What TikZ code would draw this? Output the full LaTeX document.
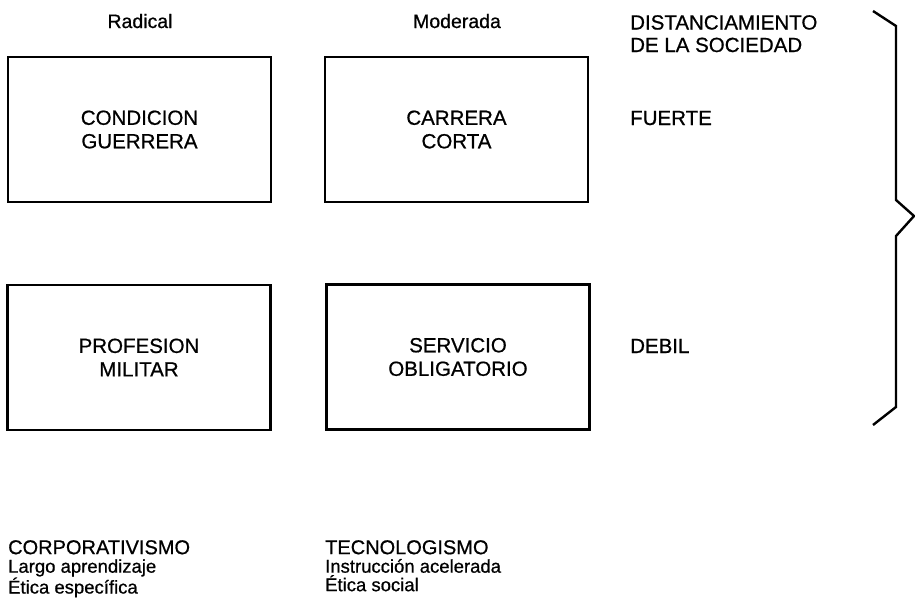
\documentclass[tikz,border=0pt]{standalone}
\usepackage{fontspec}
\setmainfont{Liberation Sans}
\newfontfamily\reffont{Liberation Sans}[FakeBold=0.7]
\begin{document}
\begin{tikzpicture}[x=1pt,y=-1pt,
  box/.style={draw=black,line width=2.8pt,minimum width=263pt,minimum height=145pt,inner sep=0pt,align=center,font=\reffont\fontsize{20.5}{23.5}\selectfont},
  head/.style={inner sep=0pt,font=\reffont\fontsize{19.5}{22}\selectfont},
  lbl/.style={inner sep=0pt,font=\reffont\fontsize{20.5}{22.5}\selectfont,align=left},
  small/.style={inner sep=0pt,font=\reffont\fontsize{18.5}{18.5}\selectfont,align=left}]
\useasboundingbox (0,0) rectangle (915,603);
% column headers
\node[head,anchor=base] (rad) at (140,28) {Radical};
\node[head,anchor=base] (mod) at (457,28) {Moderada};
\node[lbl,anchor=north west] (dist) at (630,15) {DISTANCIAMIENTO\\DE LA SOCIEDAD};
% boxes
\node[box] (cg) at (139.5,129.5) {CONDICION\\GUERRERA};
\node[box] (cc) at (456.5,129.5) {CARRERA\\CORTA};
\node[box] (pm) at (139,357.5) {PROFESION\\MILITAR};
\node[box] (so) at (458,357) {SERVICIO\\OBLIGATORIO};
% strength labels
\node[lbl,anchor=base west] (fu) at (630,125) {FUERTE};
\node[lbl,anchor=base west] (de) at (630,353) {DEBIL};
% bottom texts
\node[small,anchor=north west] (corp) at (8,540) {{\fontsize{20}{18.5}\selectfont CORPORATIVISMO}\\Largo aprendizaje\\Ética específica};
\node[small,anchor=north west] (tec) at (325,540) {{\fontsize{20}{18.5}\selectfont TECNOLOGISMO}\\Instrucción acelerada\\Ética social};
% brace
\coordinate (b1) at (873,11);
\coordinate (b2) at (896,26);
\coordinate (b3) at (896,200);
\coordinate (b4) at (914,216);
\coordinate (b5) at (896,236);
\coordinate (b6) at (896,407);
\coordinate (b7) at (873,425);
\draw[line width=2.4pt,line join=miter] (b1) -- (b2) -- (b3) -- (b4) -- (b5) -- (b6) -- (b7);
\end{tikzpicture}
\end{document}
